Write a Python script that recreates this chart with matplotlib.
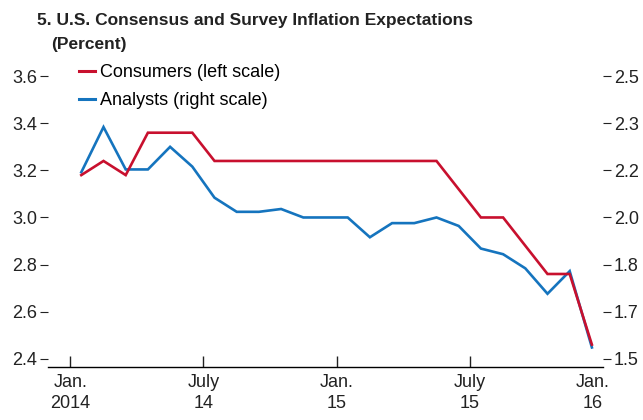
import matplotlib.pyplot as plt
import numpy as np

# Data: monthly, Jan 2014 - Dec 2015
months = np.arange(24) + 0.5
consumers = [3.18, 3.24, 3.18, 3.36, 3.36, 3.36, 3.24, 3.24, 3.24, 3.24,
             3.24, 3.24, 3.24, 3.24, 3.24, 3.24, 3.24, 3.12, 3.00, 3.00,
             2.88, 2.76, 2.76, 2.46]
analysts = [2.16, 2.32, 2.17, 2.17, 2.25, 2.18, 2.07, 2.02, 2.02, 2.03,
            2.00, 2.00, 2.00, 1.93, 1.98, 1.98, 2.00, 1.97, 1.89, 1.87,
            1.82, 1.73, 1.81, 1.54]

xtick_pos = [0, 6, 12, 18, 23.55]
xtick_labels = ["Jan.\n2014", "July\n14", "Jan.\n15", "July\n15", "Jan.\n16"]
left_ticks = [2.4, 2.6, 2.8, 3.0, 3.2, 3.4, 3.6]
right_ticks = [1.5 + (v - 2.4) / 1.2 for v in left_ticks]
right_labels = ["1.5", "1.7", "1.8", "2.0", "2.2", "2.3", "2.5"]

plt.rcParams['font.family'] = ['Liberation Sans', 'DejaVu Sans']

red = "#C8102E"
blue = "#1574BE"
txt = "#222222"

fig = plt.figure(figsize=(6.43, 4.2), dpi=100)
ax = fig.add_axes([48/643, 1 - 367/420, (603 - 48)/643, (367 - 55)/420])
ax2 = ax.twinx()

ylo, yhi = 2.365, 3.69
ax.set_ylim(ylo, yhi)
ax2.set_ylim(1.5 + (ylo - 2.4) / 1.2, 1.5 + (yhi - 2.4) / 1.2)
ax.set_xlim(-1, 24)

ax2.plot(months, analysts, color=blue, lw=1.9, solid_joinstyle='miter', zorder=2)
ax.plot(months, consumers, color=red, lw=1.9, solid_joinstyle='miter', zorder=3)
ax.set_zorder(ax2.get_zorder() + 1)
ax.patch.set_visible(False)

for a in (ax, ax2):
    for s in ['top', 'left', 'right']:
        a.spines[s].set_visible(False)
ax2.spines['bottom'].set_visible(False)
ax.spines['bottom'].set_linewidth(1.0)

ax.set_xticks(xtick_pos)
ax.set_xticklabels(xtick_labels, fontsize=13, linespacing=1.35)
ax.tick_params(axis='x', direction='in', length=8, width=1, pad=5, colors=txt)
ax.xaxis.get_major_ticks()[-1].tick1line.set_visible(False)

ax.set_yticks(left_ticks)
ax.set_yticklabels(["%.1f" % v for v in left_ticks], fontsize=13)
ax.tick_params(axis='y', direction='out', length=6, width=0.8, pad=2, colors=txt)

ax2.set_yticks(right_ticks)
ax2.set_yticklabels(right_labels, fontsize=13)
ax2.tick_params(axis='y', direction='out', length=6, width=0.8, pad=2, colors=txt)

fig.text(37/643, 1 - 20/420, "5. U.S. Consensus and Survey Inflation Expectations",
         fontsize=12.5, fontweight='bold', va='center', ha='left', color=txt)
fig.text(51/643, 1 - 45/420, "(Percent)",
         fontsize=12.5, fontweight='bold', va='center', ha='left', color=txt)

ax.legend(handles=[plt.Line2D([], [], color=red, lw=2.2), plt.Line2D([], [], color=blue, lw=2.2)],
          labels=["Consumers (left scale)", "Analysts (right scale)"],
          loc='upper left', frameon=False, fontsize=13,
          handlelength=0.9, handletextpad=0.25, labelspacing=0.6, borderaxespad=0,
          borderpad=0)
leg = ax.get_legend()
leg.set_bbox_to_anchor((79/643, 1 - 64/420), transform=fig.transFigure)

plt.savefig("out.png", dpi=100)
